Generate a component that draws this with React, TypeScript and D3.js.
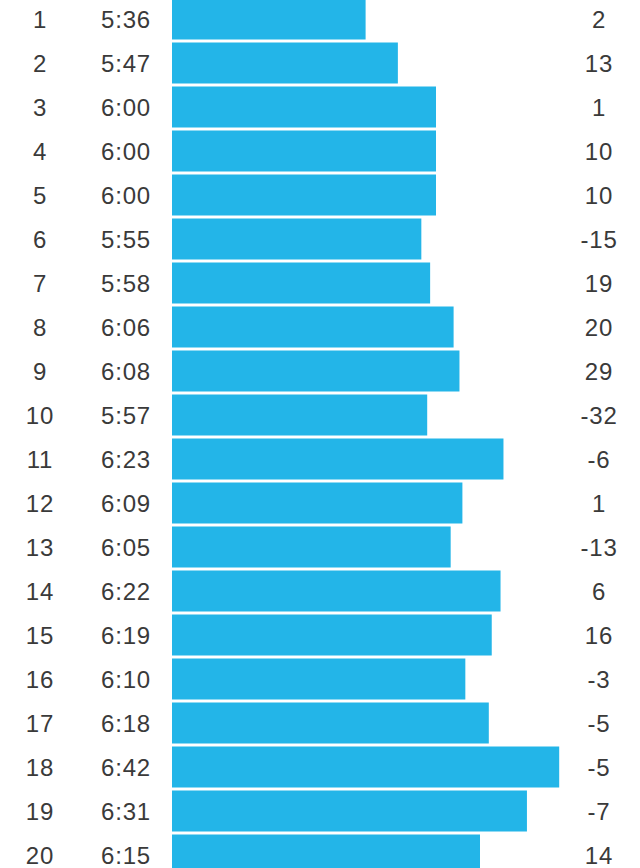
import React from "react";
import * as d3 from "d3";

const laps = [1, 2, 3, 4, 5, 6, 7, 8, 9, 10, 11, 12, 13, 14, 15, 16, 17, 18, 19, 20];
const paces = ["5:36", "5:47", "6:00", "6:00", "6:00", "5:55", "5:58", "6:06", "6:08", "5:57", "6:23", "6:09", "6:05", "6:22", "6:19", "6:10", "6:18", "6:42", "6:31", "6:15"];
const elevation = [2, 13, 1, 10, 10, -15, 19, 20, 29, -32, -6, 1, -13, 6, 16, -3, -5, -5, -7, 14];

const toSec = (s: string) => {
  const [m, ss] = s.split(":").map(Number);
  return m * 60 + ss;
};

export default function App() {
  const W = 640;
  const H = 868;
  const y = d3
    .scaleBand<number>()
    .domain(laps)
    .range([-3, 877])
    .paddingInner(3 / 44)
    .paddingOuter(3 / 88);
  const x = d3.scaleLinear().domain([270, 420]).range([172, 612]);
  const textStyle: React.CSSProperties = {
    fontFamily: "'Liberation Sans', Arial, sans-serif",
    fontSize: 24,
    letterSpacing: 0.8,
    fill: "#3a3a3a",
  };
  return (
    <svg
      width={W}
      height={H}
      style={{ position: "absolute", left: 0, top: 0, background: "#fff" }}
    >
      {laps.map((lap, i) => {
        const top = y(lap)!;
        const cy = top + y.bandwidth() / 2;
        const t = toSec(paces[i]);
        return (
          <g key={lap}>
            <rect
              x={x(270)}
              y={top}
              width={x(t) - x(270)}
              height={y.bandwidth()}
              fill="#23b5e8"
            />
            <text x={40} y={cy + 9} textAnchor="middle" style={textStyle}>
              {lap}
            </text>
            <text x={126} y={cy + 9} textAnchor="middle" style={textStyle}>
              {paces[i]}
            </text>
            <text x={599} y={cy + 9} textAnchor="middle" style={textStyle}>
              {elevation[i]}
            </text>
          </g>
        );
      })}
    </svg>
  );
}
